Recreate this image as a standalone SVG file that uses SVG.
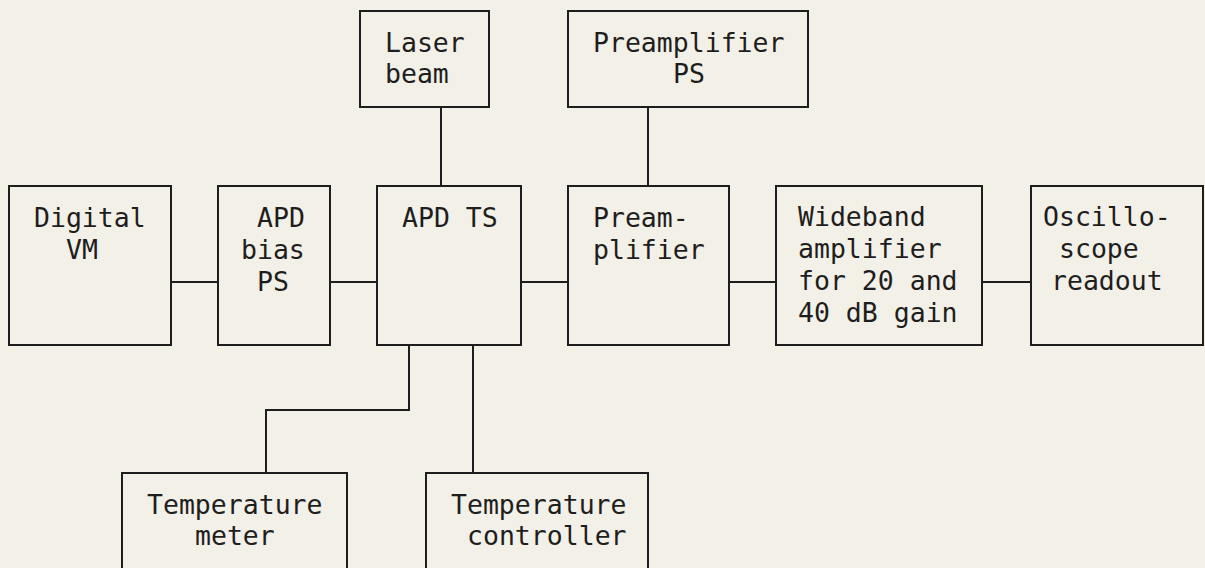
<svg xmlns="http://www.w3.org/2000/svg" width="1205" height="568" viewBox="0 0 1205 568">
<style>
.box{fill:none;stroke:#1e1e1e;stroke-width:2}
.ln{fill:none;stroke:#1e1e1e;stroke-width:2}
text{font-family:"DejaVu Sans Mono","Liberation Mono",monospace;font-size:26.5px;fill:#1e1e1e}
</style>
<rect width="1205" height="568" fill="#f3f0e8"/>
<g id="connectors">
<path class="ln" d="M441,107V186"/>
<path class="ln" d="M648,107V186"/>
<path class="ln" d="M171,282H218"/>
<path class="ln" d="M330,282H377"/>
<path class="ln" d="M521,282H568"/>
<path class="ln" d="M729,282H776"/>
<path class="ln" d="M982,282H1031"/>
<path class="ln" d="M409,345V410H266V473"/>
<path class="ln" d="M473,345V473"/>
</g>
<g id="laser"><rect class="box" x="360" y="11" width="129" height="96"/><text x="385" y="52">Laser</text><text x="385" y="83">beam</text></g>
<g id="preampps"><rect class="box" x="568" y="11" width="240" height="96"/><text x="593" y="52">Preamplifier</text><text x="673" y="83">PS</text></g>
<g id="dvm"><rect class="box" x="9" y="186" width="162" height="159"/><text x="34" y="227">Digital</text><text x="66" y="259">VM</text></g>
<g id="apdbias"><rect class="box" x="218" y="186" width="112" height="159"/><text x="257" y="227">APD</text><text x="241" y="259">bias</text><text x="257" y="291">PS</text></g>
<g id="apdts"><rect class="box" x="377" y="186" width="144" height="159"/><text x="402" y="227">APD TS</text></g>
<g id="preamp"><rect class="box" x="568" y="186" width="161" height="159"/><text x="593" y="227">Pream-</text><text x="593" y="259">plifier</text></g>
<g id="wideband"><rect class="box" x="776" y="186" width="206" height="159"/><text x="798" y="226">Wideband</text><text x="798" y="258">amplifier</text><text x="798" y="290">for 20 and</text><text x="798" y="322">40 dB gain</text></g>
<g id="scope"><rect class="box" x="1031" y="186" width="172" height="159"/><text x="1043" y="226">Oscillo-</text><text x="1059" y="258">scope</text><text x="1051" y="290">readout</text></g>
<g id="tmeter"><rect class="box" x="122" y="473" width="225" height="110"/><text x="147" y="514">Temperature</text><text x="195" y="545">meter</text></g>
<g id="tctrl"><rect class="box" x="426" y="473" width="222" height="110"/><text x="451" y="514">Temperature</text><text x="467" y="545">controller</text></g>
</svg>
